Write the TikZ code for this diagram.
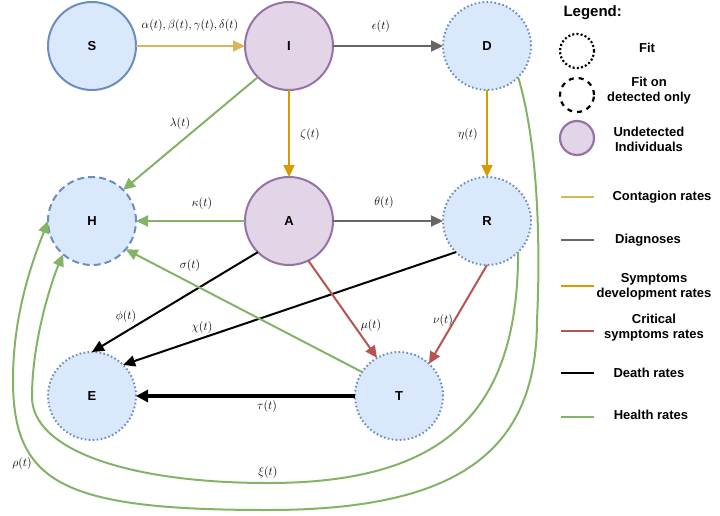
\documentclass[tikz,border=0pt]{standalone}
\usepackage{fontspec}
\setmainfont{Liberation Sans}
\usetikzlibrary{arrows.meta}
\definecolor{bfill}{HTML}{DAE8FC}
\definecolor{bdraw}{HTML}{6C8EBF}
\definecolor{pfill}{HTML}{E1D5E7}
\definecolor{pdraw}{HTML}{9673A6}
\definecolor{cyel}{HTML}{D6B656}
\definecolor{corg}{HTML}{D79B00}
\definecolor{cgry}{HTML}{666666}
\definecolor{cred}{HTML}{B85450}
\definecolor{cgrn}{HTML}{82B366}
\begin{document}
\begin{tikzpicture}[x=1pt,y=-1pt,
 comp/.style={circle,minimum size=88pt,inner sep=0pt,outer sep=0pt,line width=2pt,font=\fontsize{13}{15}\selectfont\bfseries},
 solidb/.style={comp,draw=bdraw,fill=bfill},
 dotb/.style={comp,draw=bdraw,fill=bfill,dash pattern=on 1.6pt off 2.4pt},
 dashb/.style={comp,draw=bdraw,fill=bfill,dash pattern=on 7pt off 4pt},
 purp/.style={comp,draw=pdraw,fill=pfill},
 edge/.style={line width=2pt,-{Triangle[length=12pt,width=11pt]}},
 lab/.style={font=\fontsize{12}{14}\selectfont},
 leg/.style={font=\fontsize{13}{15}\selectfont\bfseries,align=center},
 legc/.style={circle,minimum size=34pt,inner sep=0pt,line width=2.2pt},
 legl/.style={line width=2.6pt},
]
\useasboundingbox (0,0) rectangle (720,515);
% compartments
\node[solidb] (S) at (92,46) {S};
\node[purp] (I) at (289,46) {I};
\node[dotb] (D) at (487,46) {D};
\node[dashb] (H) at (92,221) {H};
\node[purp] (A) at (289,221) {A};
\node[dotb] (R) at (487,221) {R};
\node[dotb] (E) at (92,396) {E};
\node[dotb] (T) at (399,396) {T};
% long health curves
\coordinate (xa) at (268,483);
\coordinate (xb) at (32,397);
\draw[edge,cgrn] (R.-45) .. controls (518,414) and (443,483) .. (xa)
  .. controls (126,483) and (32,449) .. (xb)
  .. controls (32,340) and (52,280) .. (H.229);
\coordinate (ra) at (537,320);
\coordinate (rb) at (268,510);
\coordinate (rc) at (13,380);
\draw[edge,cgrn] (D.-45) .. controls (540,150) and (540,260) .. (ra)
  .. controls (537,453) and (456,510) .. (rb)
  .. controls (64,510) and (13,484) .. (rc)
  .. controls (13,310) and (35,255) .. (H.west);
% edges
\draw[edge,cyel] (S) -- (I);
\draw[edge,cgry] (I) -- (D);
\draw[edge,corg] (I) -- (A);
\draw[edge,corg] (D) -- (R);
\draw[edge,cgrn] (I.225) -- (H.45);
\draw[edge,cgrn] (A) -- (H);
\draw[edge,cgry] (A) -- (R);
\draw[edge,black] (A.225) -- (E.north);
\draw[edge,black] (R.225) -- (E.45);
\draw[edge,cred] (A.296) -- (T.120);
\draw[edge,cred] (R.south) -- (T.47);
\draw[edge,cgrn] (T.147) -- (H.-40);
\draw[line width=3.2pt,-{Triangle[length=12pt,width=12pt]}] (T) -- (E);
% rate labels
\node[lab] (l1) at (190,25) {$\alpha(t),\beta(t),\gamma(t),\delta(t)$};
\node[lab] (l2) at (381,26) {$\epsilon(t)$};
\node[lab] (l3) at (180,123) {$\lambda(t)$};
\node[lab] (l4) at (310,134) {$\zeta(t)$};
\node[lab] (l5) at (468,134) {$\eta(t)$};
\node[lab] (l6) at (202,203) {$\kappa(t)$};
\node[lab] (l7) at (384,202) {$\theta(t)$};
\node[lab] (l8) at (190,265) {$\sigma(t)$};
\node[lab] (l9) at (126,316) {$\phi(t)$};
\node[lab] (l10) at (202,327) {$\chi(t)$};
\node[lab] (l11) at (371,325) {$\mu(t)$};
\node[lab] (l12) at (443,320) {$\nu(t)$};
\node[lab] (l13) at (267,406) {$\tau(t)$};
\node[lab] (l14) at (268,472) {$\xi(t)$};
\node[lab] (l15) at (22,463) {$\rho(t)$};
% legend
\node[font=\fontsize{15}{17}\selectfont\bfseries,anchor=west] (lt) at (560,13) {Legend:};
\node[legc,draw=black,dash pattern=on 2pt off 2.2pt] (lc1) at (577,51) {};
\node[leg] (lf1) at (647,48) {Fit};
\node[legc,draw=black,dash pattern=on 5pt off 5pt] (lc2) at (577,95) {};
\node[leg] (lf2) at (649,91) {Fit on\\detected only};
\node[legc,draw=pdraw,fill=pfill] (lc3) at (577,138) {};
\node[leg] (lf3) at (649,139.5) {Undetected\\Individuals};
\draw[legl,cyel] (561,197) -- (594,197);
\node[leg] (lg1) at (662,197) {Contagion rates};
\draw[legl,cgry] (561,240) -- (594,240);
\node[leg] (lg2) at (648,240) {Diagnoses};
\draw[legl,corg] (561,286) -- (594,286);
\node[leg] (lg3) at (654,287) {Symptoms\\development rates};
\draw[legl,cred] (561,331) -- (594,331);
\node[leg] (lg4) at (654,327.5) {Critical\\symptoms rates};
\draw[legl,black] (561,373) -- (594,373);
\node[leg] (lg5) at (649,373) {Death rates};
\draw[legl,cgrn] (561,417) -- (594,417);
\node[leg] (lg6) at (651,415) {Health rates};
\end{tikzpicture}
\end{document}
